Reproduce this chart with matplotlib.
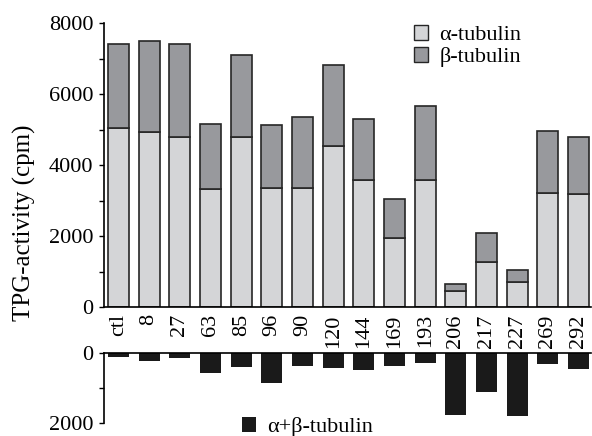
import numpy as np
import matplotlib.pyplot as plt
from matplotlib.patches import Patch
from matplotlib.ticker import MultipleLocator

plt.rcParams['font.family'] = ['Liberation Serif', 'DejaVu Serif']

labels = ["ctl", "8", "27", "63", "85", "96", "90", "120", "144", "169", "193",
          "206", "217", "227", "269", "292"]
alpha = [5050, 4930, 4810, 3340, 4810, 3360, 3360, 4550, 3590, 1940, 3590,
         460, 1270, 710, 3230, 3200]
total = [7410, 7490, 7410, 5160, 7110, 5130, 5360, 6820, 5310, 3040, 5670,
         650, 2080, 1060, 4970, 4810]
combined = [120, 220, 130, 580, 400, 860, 380, 420, 470, 360, 290,
            1780, 1120, 1800, 310, 450]

beta = [t - a for t, a in zip(total, alpha)]
x = np.arange(len(labels))

c_alpha = "#d4d5d7"
c_beta = "#98999d"
c_edge = "#262626"

fig = plt.figure(figsize=(5.92, 4.36), dpi=100)
ax = fig.add_axes([0.1757, 0.2952, 0.8223, 0.6514])
ax2 = fig.add_axes([0.1757, 0.0305, 0.8223, 0.1592])

w = 0.69
ax.bar(x, alpha, w, color=c_alpha, edgecolor=c_edge, linewidth=1.2)
ax.bar(x, beta, w, bottom=alpha, color=c_beta, edgecolor=c_edge, linewidth=1.2)
ax.set_xlim(-0.47, 15.4)
ax.set_ylim(0, 8000)
ax.yaxis.set_major_locator(MultipleLocator(2000))
ax.yaxis.set_minor_locator(MultipleLocator(1000))
ax.set_xticks(x)
ax.set_xticklabels(labels, rotation=90, fontsize=16)
ax.tick_params(axis='x', length=0, pad=5)
ax.tick_params(axis='y', which='both', direction='out', length=3.5, width=1,
               labelsize=16, pad=4)
for s in ['top', 'right']:
    ax.spines[s].set_visible(False)
for s in ['left', 'bottom']:
    ax.spines[s].set_linewidth(1.2)
ax.set_ylabel("TPG-activity (cpm)", fontsize=18)
ax.yaxis.set_label_coords(-0.14, 0.297)

ax.legend(handles=[Patch(facecolor=c_alpha, edgecolor=c_edge, label="α-tubulin"),
                   Patch(facecolor=c_beta, edgecolor=c_edge, label="β-tubulin")],
          loc='upper left', bbox_to_anchor=(0.595, 1.065), frameon=False,
          fontsize=16, handlelength=0.65, handleheight=0.65, handletextpad=0.5,
          labelspacing=0.1)

ax2.bar(x, combined, w, color="#1a1a1a")
ax2.set_xlim(-0.47, 15.4)
ax2.set_ylim(2000, 0)
ax2.yaxis.set_major_locator(MultipleLocator(2000))
ax2.yaxis.set_minor_locator(MultipleLocator(1000))
ax2.set_xticks([])
ax2.tick_params(axis='y', which='both', direction='out', length=3.5, width=1,
                labelsize=16, pad=4)
for s in ['bottom', 'right']:
    ax2.spines[s].set_visible(False)
for s in ['left', 'top']:
    ax2.spines[s].set_linewidth(1.2)
ax2.legend(handles=[Patch(facecolor="#1a1a1a", label="α+β-tubulin")],
           loc='upper left', bbox_to_anchor=(0.242, 0.37), frameon=False,
           fontsize=16, handlelength=0.65, handleheight=0.65, handletextpad=0.5)

fig.savefig("out.png", dpi=100)
